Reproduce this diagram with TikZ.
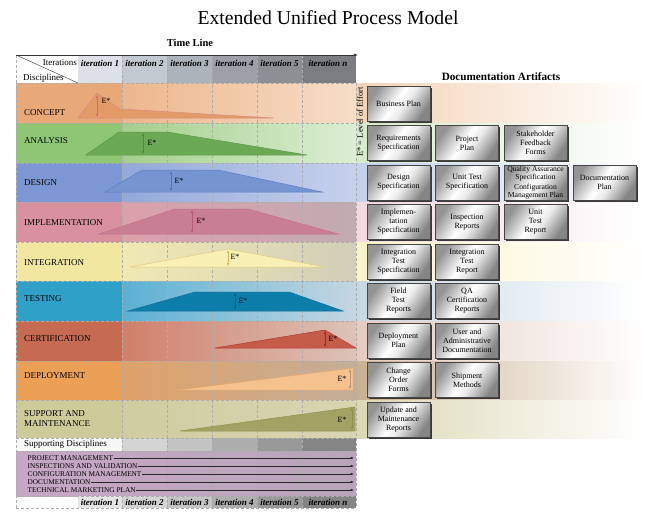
\documentclass[tikz,border=0pt]{standalone}
\usepackage{fontspec}
\setmainfont{Liberation Serif}
\usetikzlibrary{arrows.meta,shadows}
% row colours: A label area, B start of columns, C end of columns, D artifact side
\definecolor{conA}{HTML}{E9A878}\definecolor{conB}{HTML}{EDB68C}\definecolor{conC}{HTML}{F6DEC8}\definecolor{conD}{HTML}{F3D3B5}
\definecolor{anaA}{HTML}{8FC673}\definecolor{anaB}{HTML}{A3D08B}\definecolor{anaC}{HTML}{DCEED3}\definecolor{anaD}{HTML}{D5EBCB}
\definecolor{desA}{HTML}{7C97D3}\definecolor{desB}{HTML}{93A9DB}\definecolor{desC}{HTML}{C7D1EC}\definecolor{desD}{HTML}{C5D0EC}
\definecolor{impA}{HTML}{D9909F}\definecolor{impB}{HTML}{DCA0AC}\definecolor{impC}{HTML}{C1ABB1}\definecolor{impD}{HTML}{F2D9DF}
\definecolor{intA}{HTML}{F2E7A0}\definecolor{intB}{HTML}{F1E9B2}\definecolor{intC}{HTML}{D2CEB8}\definecolor{intD}{HTML}{FBF3C8}
\definecolor{tesA}{HTML}{2FA0C8}\definecolor{tesB}{HTML}{5AB1D3}\definecolor{tesC}{HTML}{C6D6E1}\definecolor{tesD}{HTML}{C7D8E3}
\definecolor{cerA}{HTML}{C66B52}\definecolor{cerB}{HTML}{D07F6A}\definecolor{cerC}{HTML}{DDC3B8}\definecolor{cerD}{HTML}{E3CBC1}
\definecolor{depA}{HTML}{ECA055}\definecolor{depB}{HTML}{DFA26A}\definecolor{depC}{HTML}{C4AE98}\definecolor{depD}{HTML}{C9B08F}
\definecolor{supA}{HTML}{CFCA99}\definecolor{supB}{HTML}{D0CCA0}\definecolor{supC}{HTML}{D8D5B2}\definecolor{supD}{HTML}{DCD8B4}
% effort shapes: F fill, E edge, R arrow
\definecolor{conF}{HTML}{E29A66}\definecolor{conE}{HTML}{D88A86}\definecolor{conR}{HTML}{C9706E}
\definecolor{anaF}{HTML}{6CA955}\definecolor{anaE}{HTML}{5C9A48}\definecolor{anaR}{HTML}{4E8B3E}
\definecolor{desF}{HTML}{7594D0}\definecolor{desE}{HTML}{5F7FC4}\definecolor{desR}{HTML}{5673B5}
\definecolor{impF}{HTML}{C97F93}\definecolor{impE}{HTML}{C56E8A}\definecolor{impR}{HTML}{B85A77}
\definecolor{intF}{HTML}{F8F0B5}\definecolor{intE}{HTML}{E6C77D}\definecolor{intR}{HTML}{D8B560}
\definecolor{tesF}{HTML}{0D7DAA}\definecolor{tesE}{HTML}{0B6E98}\definecolor{tesR}{HTML}{0A5C80}
\definecolor{cerF}{HTML}{C55C49}\definecolor{cerE}{HTML}{B5383A}\definecolor{cerR}{HTML}{A02A30}
\definecolor{depF}{HTML}{F4C18F}\definecolor{depE}{HTML}{E8A96F}\definecolor{depR}{HTML}{B9977A}
\definecolor{supF}{HTML}{A3A163}\definecolor{supE}{HTML}{96944F}\definecolor{supR}{HTML}{8F8D5A}
% header / grey columns
\definecolor{hA}{HTML}{DCE1E7}\definecolor{hB}{HTML}{C3C9D0}\definecolor{hC}{HTML}{ADB3BA}
\definecolor{hD}{HTML}{9CA1A7}\definecolor{hE}{HTML}{8C9095}\definecolor{hF}{HTML}{7A7E82}
\definecolor{gA}{HTML}{E5E5E5}\definecolor{gB}{HTML}{D4D4D4}\definecolor{gC}{HTML}{C4C4C4}
\definecolor{gD}{HTML}{AEAEAE}\definecolor{gE}{HTML}{999999}\definecolor{gF}{HTML}{858585}
\definecolor{purA}{HTML}{C6A7C6}\definecolor{purB}{HTML}{B9A5BA}
\pgfdeclarehorizontalshading{metal}{100bp}{color(0bp)=(black!42); color(25bp)=(black!42); color(47bp)=(white); color(56bp)=(black!8); color(75bp)=(black!48); color(100bp)=(black!48)}
\newcommand\drow[7]{%
  \fill[#3] (16,#1) rectangle (122,#2);
  \shade[left color=#4,right color=#5] (122,#1) rectangle (356,#2);
  \shade[left color=#6,right color=white] (356,#1) rectangle (645,#2);
}
\begin{document}
\begin{tikzpicture}[x=1pt,y=-1pt,
  grid/.style={gray!65, dash pattern=on 3pt off 2pt, line width=0.5pt},
  itlab/.style={font=\fontsize{9}{10}\selectfont\bfseries\itshape, inner sep=0pt},
  disc/.style={anchor=west, font=\fontsize{9}{10}\selectfont, align=left, inner sep=0pt},
  elab/.style={font=\fontsize{8}{9}\selectfont, inner sep=0pt},
  earrow/.style={{Latex[length=3pt,width=2.6pt]}-{Latex[length=3pt,width=2.6pt]}, line width=0.5pt},
  sup/.style={anchor=west, font=\fontsize{7.3}{8}\selectfont, inner sep=0.5pt},
  suparrow/.style={-{Latex[length=3.5pt,width=2.6pt]}, line width=0.5pt, black!85},
  artbox/.style={draw=gray!55!black, line width=0.4pt, minimum width=63pt, minimum height=35pt,
    inner sep=1pt, align=center, font=\fontsize{8}{9}\selectfont,
    shade, shading=metal, shading angle=-35,
    drop shadow={shadow xshift=1.6pt, shadow yshift=-1.6pt, opacity=1, fill=black!78}}
]
\useasboundingbox (0,0) rectangle (650,514);
\fill[white] (0,0) rectangle (650,514);

% titles
\node (title) at (328,18) {\fontsize{19.7}{22}\selectfont Extended Unified Process Model};
\node (tline) at (190,43) {\fontsize{10.5}{12}\selectfont\bfseries Time Line};
\node (docart) at (501,77) {\fontsize{11.2}{13}\selectfont\bfseries Documentation Artifacts};

% header
\fill[hA] (78,55) rectangle (122,83);
\fill[hB] (122,55) rectangle (167,83);
\fill[hC] (167,55) rectangle (212,83);
\fill[hD] (212,55) rectangle (257,83);
\fill[hE] (257,55) rectangle (302,83);
\fill[hF] (302,55) rectangle (356,83);

% discipline rows
\drow{83}{123}{conA}{conB}{conC}{conD}{}
\drow{123}{163}{anaA}{anaB}{anaC}{anaD}{}
\drow{163}{202}{desA}{desB}{desC}{desD}{}
\drow{202}{242}{impA}{impB}{impC}{impD}{}
\drow{242}{281}{intA}{intB}{intC}{intD}{}
\drow{281}{321}{tesA}{tesB}{tesC}{tesD}{}
\drow{321}{361}{cerA}{cerB}{cerC}{cerD}{}
\drow{361}{400}{depA}{depB}{depC}{depD}{}
\drow{400}{438}{supA}{supB}{supC}{supD}{}

% supporting disciplines
\fill[white!94!gray] (16,438) rectangle (122,451);
\fill[gB] (122,438) rectangle (167,451);
\fill[gC] (167,438) rectangle (212,451);
\fill[gD] (212,438) rectangle (257,451);
\fill[gE] (257,438) rectangle (302,451);
\fill[gF] (302,438) rectangle (356,451);
\shade[left color=purA,right color=purB] (16,451) rectangle (356,496);
% bottom iteration row
\fill[gA] (78,496) rectangle (122,508);
\fill[gB] (122,496) rectangle (167,508);
\fill[gC] (167,496) rectangle (212,508);
\fill[gD] (212,496) rectangle (257,508);
\fill[gE] (257,496) rectangle (302,508);
\fill[gF] (302,496) rectangle (356,508);

% grid
\foreach \gx in {16,122,167,212,257,302}{\draw[grid] (\gx,55) -- (\gx,508);}
\draw[grid] (356,83) -- (356,508);
\foreach \gy in {83,123,163,202,242,281,321,361,400,438,451,496,508}{\draw[grid] (16,\gy) -- (356,\gy);}

% timeline arrow
\coordinate (tlA) at (16,55);
\coordinate (tlB) at (358,55);
\draw[-{Latex[length=4pt,width=3pt]}, line width=0.6pt, black!80] (tlA) -- (tlB);
\coordinate (dgA) at (16,55);
\coordinate (dgB) at (78,83);
\draw[line width=0.4pt, black!80] (dgA) -- (dgB);
\node[anchor=east, font=\fontsize{9}{10}\selectfont, inner sep=0pt] (iters) at (77,63) {Iterations};
\node[anchor=west, font=\fontsize{9}{10}\selectfont, inner sep=0pt] (discs) at (23,78) {Disciplines};

% iteration labels
\foreach \lx/\lt/\nm in {100/1/a,144.5/2/b,189.5/3/c,234.5/4/d,279.5/5/e,328/n/f}{
  \node[itlab] (top\nm) at (\lx,63) {iteration \lt};
  \node[itlab] (bot\nm) at (\lx,502) {iteration \lt};
}

% discipline labels
\node[disc] (lcon) at (24,113) {CONCEPT};
\node[disc] (lana) at (24,141) {ANALYSIS};
\node[disc] (ldes) at (24,183) {DESIGN};
\node[disc] (limp) at (24,223) {IMPLEMENTATION};
\node[disc] (lint) at (24,263) {INTEGRATION};
\node[disc] (ltes) at (24,299) {TESTING};
\node[disc] (lcer) at (24,339) {CERTIFICATION};
\node[disc] (ldep) at (24,376) {DEPLOYMENT};
\node[disc] (lsup) at (24,419) {SUPPORT AND\\MAINTENANCE};
\node[disc] (lsd) at (24,444.5) {Supporting Disciplines};

% effort shapes
\filldraw[fill=conF, draw=conE, line width=0.5pt] (78,118) -- (97,93) -- (120,109) -- (273,118) -- cycle;
\draw[earrow, conR] (97,95) -- (97,117);
\node[elab] (econ) at (106,101) {E*};

\filldraw[fill=anaF, draw=anaE, line width=0.5pt] (86,155) -- (119,132) -- (167,132) -- (307,155) -- cycle;
\draw[earrow, anaR] (143,133) -- (143,154);
\node[elab] (eana) at (152,143) {E*};

\filldraw[fill=desF, draw=desE, line width=0.5pt] (105,192) -- (142,170) -- (218,170) -- (322,192) -- cycle;
\draw[earrow, desR] (171,171) -- (171,191);
\node[elab] (edes) at (179,181) {E*};

\filldraw[fill=impF, draw=impE, line width=0.5pt] (99,234) -- (175,209) -- (248,209) -- (338,234) -- cycle;
\draw[earrow, impR] (192,210) -- (192,233);
\node[elab] (eimp) at (201,221) {E*};

\filldraw[fill=intF, draw=intE, line width=0.5pt] (130,267) -- (228,249) -- (325,267) -- cycle;
\draw[earrow, intR] (228,250) -- (228,266);
\node[elab] (eint) at (235,257) {E*};

\filldraw[fill=tesF, draw=tesE, line width=0.5pt] (128,311) -- (195,292) -- (289,292) -- (343,311) -- cycle;
\draw[earrow, tesR] (235,293) -- (235,310);
\node[elab] (etes) at (243,301) {E*};

\filldraw[fill=cerF, draw=cerE, line width=0.5pt] (215,348) -- (325,330) -- (356,348) -- cycle;
\draw[earrow, cerR] (325,331) -- (325,347);
\node[elab] (ecer) at (333,339) {E*};

\filldraw[fill=depF, draw=depE, line width=0.5pt] (178,390) -- (353,368) -- (353,390) -- cycle;
\draw[earrow, depR] (350,369) -- (350,389);
\node[elab] (edep) at (342,379) {E*};

\filldraw[fill=supF, draw=supE, line width=0.5pt] (180,431) -- (355,407) -- (355,431) -- cycle;
\draw[earrow, supR] (352,408) -- (352,430);
\node[elab] (esup) at (342,420) {E*};

% supporting disciplines arrows
\foreach \sy/\st/\nm in {458/PROJECT MANAGEMENT/1,466/INSPECTIONS AND VALIDATION/2,474/CONFIGURATION MANAGEMENT/3,482/DOCUMENTATION/4,490/TECHNICAL MARKETING PLAN/5}{
  \node[sup] (s\nm) at (27,\sy) {\st};
  \coordinate (se\nm) at (354,\sy);
  \draw[suparrow] (s\nm.east) -- (se\nm);
}

% level of effort legend
\node[rotate=90, font=\fontsize{8.5}{10}\selectfont, inner sep=0pt] (effort) at (360,122) {E* = Level of Effort};

% artifacts
\node[artbox] (b11) at (398.5,103.5) {Business Plan};
\node[artbox] (b21) at (398.5,143) {Requirements\\Specification};
\node[artbox] (b22) at (467,143) {Project\\Plan};
\node[artbox] (b23) at (535.5,143) {Stakeholder\\Feedback\\Forms};
\node[artbox] (b31) at (398.5,182.5) {Design\\Specification};
\node[artbox] (b32) at (467,182.5) {Unit Test\\Specification};
\node[artbox, inner sep=0pt, font=\fontsize{7.6}{8.2}\selectfont] (b33) at (535.5,182.5) {Quality Assurance\\Specification\\[1.5pt]Configuration\\Management Plan};
\node[artbox] (b34) at (604.5,182.5) {Documentation\\Plan};
\node[artbox] (b41) at (398.5,222) {Implemen-\\tation\\Specification};
\node[artbox] (b42) at (467,222) {Inspection\\Reports};
\node[artbox] (b43) at (535.5,222) {Unit\\Test\\Report};
\node[artbox] (b51) at (398.5,262) {Integration\\Test\\Specification};
\node[artbox] (b52) at (467,262) {Integration\\Test\\Report};
\node[artbox] (b61) at (398.5,301) {Field\\Test\\Reports};
\node[artbox] (b62) at (467,301) {QA\\Certification\\Reports};
\node[artbox] (b71) at (398.5,340.5) {Deployment\\Plan};
\node[artbox] (b72) at (467,340.5) {User and\\Administrative\\Documentation};
\node[artbox] (b81) at (398.5,380) {Change\\Order\\Forms};
\node[artbox] (b82) at (467,380) {Shipment\\Methods};
\node[artbox] (b91) at (398.5,419.5) {Update and\\Maintenance\\Reports};
\end{tikzpicture}
\end{document}
